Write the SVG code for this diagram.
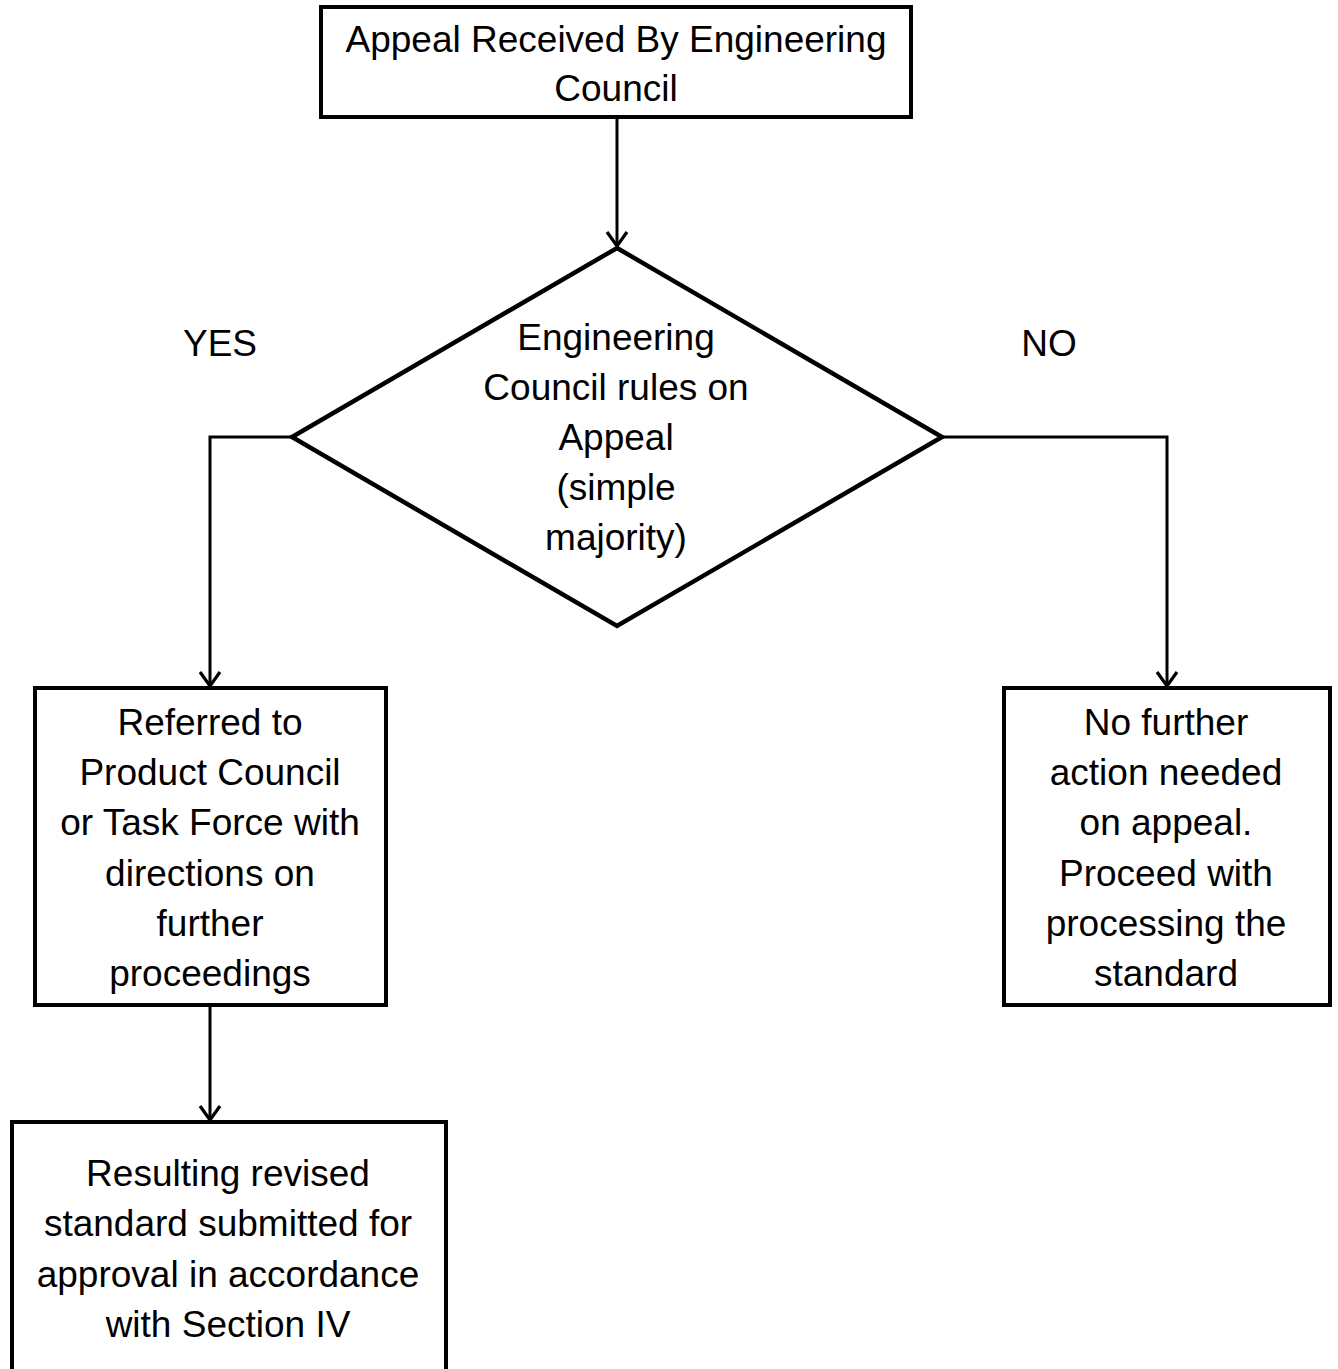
<svg xmlns="http://www.w3.org/2000/svg" width="1338" height="1369" viewBox="0 0 1338 1369">
<style>
.box{fill:#fff;stroke:#000;stroke-width:4}
.dia{fill:#fff;stroke:#000;stroke-width:4.5}
.con{fill:none;stroke:#000;stroke-width:3}
text{font-family:"Liberation Sans",Arial,sans-serif;font-size:37px;fill:#000;text-anchor:middle}
</style>
<defs>
<marker id="arr" markerUnits="userSpaceOnUse" markerWidth="34" markerHeight="34" viewBox="-17 -17 34 34" refX="0" refY="0" orient="auto">
<path d="M-14,-10 L0,0 L-14,10" fill="none" stroke="#000" stroke-width="3.2"/>
</marker>
</defs>
<rect width="1338" height="1369" fill="#fff"/>
<g id="connectors">
<path class="con" d="M617,117 L617,246" marker-end="url(#arr)"/>
<path class="con" d="M292,437 L210,437 L210,686" marker-end="url(#arr)"/>
<path class="con" d="M942,437 L1167,437 L1167,686" marker-end="url(#arr)"/>
<path class="con" d="M210,1005 L210,1120" marker-end="url(#arr)"/>
</g>
<g id="start">
<rect class="box" x="321" y="7" width="590" height="110"/>
<text x="616" y="52">Appeal Received By Engineering</text>
<text x="616" y="101">Council</text>
</g>
<g id="decision">
<polygon class="dia" points="617,248 942,437 617,626 292,437"/>
<text x="616" y="350">Engineering</text>
<text x="616" y="400">Council rules on</text>
<text x="616" y="450">Appeal</text>
<text x="616" y="500">(simple</text>
<text x="616" y="550">majority)</text>
</g>
<g id="label-yes"><text x="220" y="356">YES</text></g>
<g id="label-no"><text x="1049" y="356">NO</text></g>
<g id="referred">
<rect class="box" x="35" y="688" width="351" height="317"/>
<text x="210" y="735">Referred to</text>
<text x="210" y="785">Product Council</text>
<text x="210" y="835">or Task Force with</text>
<text x="210" y="886">directions on</text>
<text x="210" y="936">further</text>
<text x="210" y="986">proceedings</text>
</g>
<g id="no-action">
<rect class="box" x="1004" y="688" width="326" height="317"/>
<text x="1166" y="735">No further</text>
<text x="1166" y="785">action needed</text>
<text x="1166" y="835">on appeal.</text>
<text x="1166" y="886">Proceed with</text>
<text x="1166" y="936">processing the</text>
<text x="1166" y="986">standard</text>
</g>
<g id="revised">
<rect class="box" x="12" y="1122" width="434" height="270"/>
<text x="228" y="1186">Resulting revised</text>
<text x="228" y="1236">standard submitted for</text>
<text x="228" y="1287">approval in accordance</text>
<text x="228" y="1337">with Section IV</text>
</g>
</svg>
